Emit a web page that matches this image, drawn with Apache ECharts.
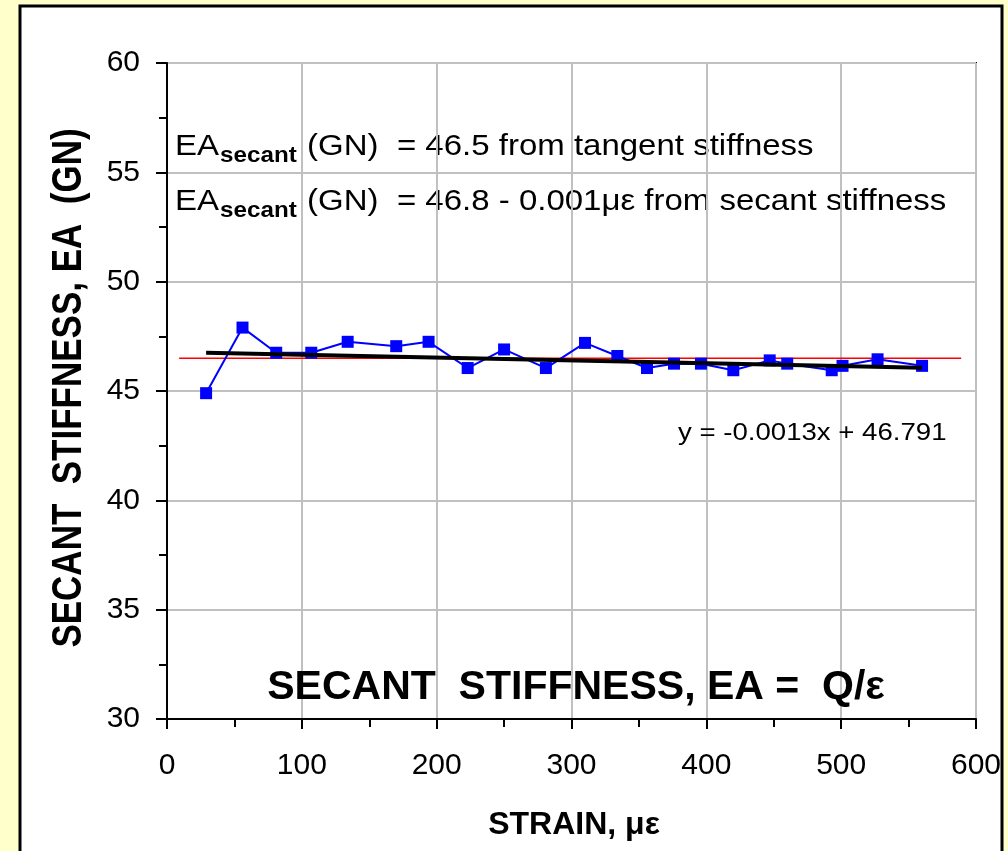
<!DOCTYPE html>
<html>
<head>
<meta charset="utf-8">
<title>Secant stiffness</title>
<script src="https://cdn.jsdelivr.net/npm/echarts@6/dist/echarts.min.js"></script>
<style>
  html, body { margin: 0; padding: 0; background: #FFFFCC; }
  #chart { width: 1008px; height: 851px; }
</style>
</head>
<body>
<div id="chart"></div>
<script>
// Measured secant stiffness vs. strain
const strain = [29, 56, 81, 107, 134, 170, 194, 223, 250, 281, 310, 334, 356, 376, 396, 420, 447, 460, 493, 501, 527, 560];
const stiffness = [44.9, 47.9, 46.75, 46.75, 47.25, 47.05, 47.25, 46.05, 46.9, 46.05, 47.2, 46.6, 46.05, 46.25, 46.25, 45.95, 46.4, 46.25, 45.95, 46.15, 46.45, 46.15];

// Tangent-stiffness value and linear trend of the secant points
const tangentEA = 46.5;
const tangentRange = [9, 589];
const trendSlope = -0.0013;
const trendIntercept = 46.791;

const xTicks = [0, 100, 200, 300, 400, 500, 600];
const yTicks = [30, 35, 40, 45, 50, 55, 60];

const FAMILY = '"Liberation Sans", Arial, sans-serif';

const measured = strain.map((x, i) => [x, stiffness[i]]);
const xFirst = Math.min(...strain), xLast = Math.max(...strain);
const trend = [xFirst, xLast].map(x => [x, trendSlope * x + trendIntercept]);
const tangent = tangentRange.map(x => [x, tangentEA]);

// text width helper for laying out the subscripted labels
const measureCtx = document.createElement('canvas').getContext('2d');
function textWidth(text, font) {
  measureCtx.font = font;
  return measureCtx.measureText(text).width;
}

// "EA_secant (GN) = ..." label: main text plus bold subscript, slightly stretched horizontally
function eaLabel(x, capCenterY, tail) {
  const mainFont = '30px ' + FAMILY;
  const subFont = 'bold 22px ' + FAMILY;
  const wEA = textWidth('EA', mainFont);
  const wSub = textWidth('secant', subFont);
  const yMain = capCenterY - 1.5;
  const ySub = capCenterY + 8;
  return {
    type: 'group', x: x, y: 0, scaleX: 1.1, z: 50,
    children: [
      { type: 'text', x: 0, y: yMain, style: { text: 'EA', font: mainFont, fill: '#000', verticalAlign: 'middle' } },
      { type: 'text', x: wEA + 1, y: ySub, style: { text: 'secant', font: subFont, fill: '#000', verticalAlign: 'middle' } },
      { type: 'text', x: wEA + wSub + 2, y: yMain, style: { text: tail, font: mainFont, fill: '#000', verticalAlign: 'middle' } }
    ]
  };
}

const chart = echarts.init(document.getElementById('chart'), null, { renderer: 'canvas' });

chart.setOption({
  backgroundColor: '#FFFFCC',
  animation: false,
  grid: {
    left: 167, top: 63, right: 32, bottom: 132,
    show: true, borderColor: '#000', borderWidth: 2, backgroundColor: 'transparent'
  },
  xAxis: {
    type: 'value',
    min: xTicks[0], max: xTicks[xTicks.length - 1], interval: 100,
    axisLine: { show: true, onZero: false, lineStyle: { color: '#000', width: 2 } },
    axisTick: { show: true, inside: false, length: 10, lineStyle: { color: '#000', width: 2 } },
    minorTick: { show: true, splitNumber: 2, length: 8, lineStyle: { color: '#000', width: 2 } },
    axisLabel: { fontFamily: FAMILY, fontSize: 30, color: '#000', margin: 32 },
    splitLine: { show: true, lineStyle: { color: '#C0C0C0', width: 2 } }
  },
  yAxis: {
    type: 'value',
    min: yTicks[0], max: yTicks[yTicks.length - 1], interval: 5,
    axisLine: { show: true, onZero: false, lineStyle: { color: '#000', width: 2 } },
    axisTick: { show: true, inside: false, length: 11, lineStyle: { color: '#000', width: 2 } },
    minorTick: { show: true, splitNumber: 2, length: 8, lineStyle: { color: '#000', width: 2 } },
    axisLabel: { fontFamily: FAMILY, fontSize: 30, color: '#000', margin: 27 },
    splitLine: { show: true, lineStyle: { color: '#C0C0C0', width: 2 } }
  },
  graphic: [
    {
      type: 'rect', z: -10, silent: true,
      shape: { x: 20, y: 6, width: 982, height: 900 },
      style: { fill: '#FFFFFF', stroke: '#000', lineWidth: 3 }
    },
    eaLabel(175, 148, ' (GN)  = ' + tangentEA.toFixed(1) + ' from tangent stiffness'),
    eaLabel(175, 203, ' (GN)  = 46.8 - 0.001\u03bc\u03b5 from secant stiffness'),
    {
      type: 'text', x: 678, y: 434, scaleX: 1.2, z: 50,
      style: {
        text: 'y = ' + trendSlope + 'x + ' + trendIntercept,
        font: '23px ' + FAMILY, fill: '#000', verticalAlign: 'middle'
      }
    },
    {
      type: 'text', x: 576, y: 688, z: 50,
      style: {
        text: 'SECANT  STIFFNESS, EA =  Q/\u03b5',
        font: 'bold 41px ' + FAMILY, fill: '#000', align: 'center', verticalAlign: 'middle'
      }
    },
    {
      type: 'text', x: 574, y: 825, z: 50,
      style: {
        text: 'STRAIN, \u03bc\u03b5',
        font: 'bold 32px ' + FAMILY, fill: '#000', align: 'center', verticalAlign: 'middle'
      }
    },
    {
      type: 'text', x: 69, y: 388, rotation: Math.PI / 2, scaleY: 1.2, z: 50,
      style: {
        text: 'SECANT  STIFFNESS, EA  (GN)',
        font: 'bold 35px ' + FAMILY, fill: '#000', align: 'center', verticalAlign: 'middle'
      }
    }
  ],
  series: [
    {
      name: 'tangent', type: 'line', data: tangent, symbol: 'none', z: 2,
      lineStyle: { color: '#FF0000', width: 1.5 }
    },
    {
      name: 'secant', type: 'line', data: measured, z: 3,
      symbol: 'rect', symbolSize: 12,
      itemStyle: { color: '#0000FF' },
      lineStyle: { color: '#0000FF', width: 2 }
    },
    {
      name: 'trend', type: 'line', data: trend, symbol: 'none', z: 4,
      lineStyle: { color: '#000000', width: 4 }
    }
  ]
});
</script>
</body>
</html>
